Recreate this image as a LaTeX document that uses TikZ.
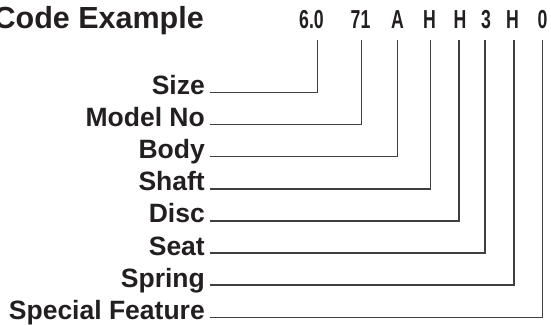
\documentclass[tikz,border=0pt]{standalone}
\usepackage{fontspec}
\setmainfont{Liberation Sans}
\usetikzlibrary{positioning}
\definecolor{inkgray}{HTML}{231F20}
\definecolor{leadgray}{HTML}{3F3F41}
\tikzset{
  title/.style = {anchor=base east, inner sep=0pt, text=inkgray, font=\fontsize{30.5}{31}\selectfont\bfseries},
  codechar/.style = {anchor=base, inner sep=0pt, xscale=0.68, text=inkgray, font=\fontsize{26}{27}\selectfont\bfseries},
  partlabel/.style = {anchor=base east, inner xsep=5pt, inner ysep=0pt, text=inkgray, font=\fontsize{26.5}{27}\selectfont\bfseries},
  leader/.style = {line width=1.4pt, draw=leadgray}
}
\begin{document}
\begin{tikzpicture}[x=1pt, y=-1pt]
    \useasboundingbox (0,0) rectangle (551,324);
    \node[title] (head) at (204,28) {Code Example};
    \foreach \i/\ch/\cx/\tx in {1/6.0/311.5/317.3, 2/71/360.5/361.7, 3/A/397.5/397.7, 4/H/429.5/430.7,
                               5/H/460/459, 6/3/486/485, 7/H/512.5/514, 8/0/542.5/542.7} {
        \node[codechar] (c\i) at (\cx,28) {\ch};
        \coordinate (t\i) at (\tx,40);
    }
    \foreach \i/\name in {1/Size, 2/Model No, 3/Body, 4/Shaft, 5/Disc, 6/Seat, 7/Spring, 8/Special Feature} {
        \node[partlabel] (l\i) at (210,{94.5+32.1*(\i-1)}) {\name};
        \draw[leader] ([yshift=2pt]l\i.base east) -| (t\i);
    }
\end{tikzpicture}
\end{document}
